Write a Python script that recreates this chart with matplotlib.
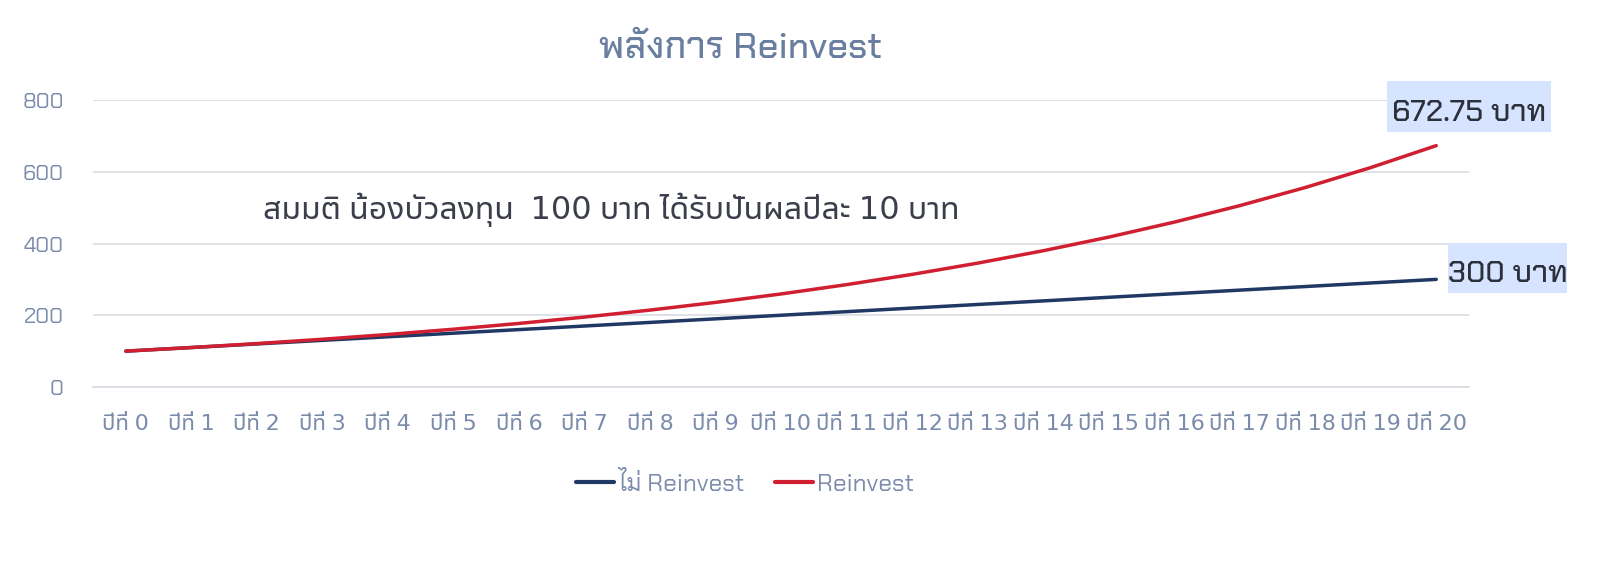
import matplotlib
matplotlib.use("Agg")
import matplotlib.pyplot as plt
from matplotlib.patches import Rectangle

# ---- data ----
years = ["ปีที่ 0", "ปีที่ 1", "ปีที่ 2", "ปีที่ 3", "ปีที่ 4", "ปีที่ 5", "ปีที่ 6",
         "ปีที่ 7", "ปีที่ 8", "ปีที่ 9", "ปีที่ 10", "ปีที่ 11", "ปีที่ 12", "ปีที่ 13",
         "ปีที่ 14", "ปีที่ 15", "ปีที่ 16", "ปีที่ 17", "ปีที่ 18", "ปีที่ 19", "ปีที่ 20"]
no_reinvest = [100, 110, 120, 130, 140, 150, 160, 170, 180, 190, 200,
               210, 220, 230, 240, 250, 260, 270, 280, 290, 300]
reinvest = [100.00, 110.00, 121.00, 133.10, 146.41, 161.05, 177.16, 194.87,
            214.36, 235.79, 259.37, 285.31, 313.84, 345.23, 379.75, 417.72,
            459.50, 505.45, 555.99, 611.59, 672.75]
series_names = ["ไม่ Reinvest", "Reinvest"]
title = "พลังการ Reinvest"
note = "สมมติ น้องบัวลงทุน  100 บาท ได้รับปันผลปีละ 10 บาท"
end_labels = ["300 บาท", "672.75 บาท"]
yticks = [0, 200, 400, 600, 800]

SQ = ["Chakra Petch", "DejaVu Sans"]
RD = ["Noto Sans Thai UI", "DejaVu Sans"]
plt.rcParams["font.family"] = SQ

W, H = 1600, 563
fig = plt.figure(figsize=(16, 5.63), dpi=100)
ax = fig.add_axes([93/W, 1-387/H, (1469-93)/W, (387-100)/H])

x = list(range(len(years)))
ax.plot(x, no_reinvest, color="#1F3864", lw=2.5, solid_capstyle="round", label=series_names[0])
ax.plot(x, reinvest, color="#D01F30", lw=2.5, solid_capstyle="round", label=series_names[1])

ax.set_xlim(-0.5, len(years) - 0.5)
ax.set_ylim(0, 800)
ax.set_yticks(yticks)
ax.set_xticks(x)
ax.set_xticklabels(years, family=RD, fontsize=16)
ax.grid(axis="y", color="#D9DCE3", lw=1.2)
ax.set_axisbelow(True)
for s in ["top", "right", "left"]:
    ax.spines[s].set_visible(False)
ax.spines["bottom"].set_color("#D9DCE3")
ax.spines["bottom"].set_linewidth(1.2)
ax.tick_params(length=0, colors="#7A8BAB")
ax.tick_params(axis="y", pad=21, labelsize=16)
ax.tick_params(axis="x", pad=19.5)

fig.text(740/W, 1-49/H, title, ha="center", va="center", fontsize=26.5, color="#6A7FA0",
         fontweight="medium")
ax.text(2.1, 495, note, fontsize=23, color="#3A3F4B", va="center", family=RD)

# label boxes (end-of-series value labels)
boxes = [(1448, 243, 1567, 293), (1387, 81, 1551, 132)]
for (x0, y0, x1, y1), lab in zip(boxes, end_labels):
    fig.patches.append(Rectangle((x0/W, 1-y1/H), (x1-x0)/W, (y1-y0)/H, transform=fig.transFigure,
                                 fc="#D6E4FF", ec="none", zorder=0))
    fig.text((x0+x1)/2/W, 1-((y0+y1)/2+7)/H, lab, ha="center", va="center", fontsize=22,
             color="#2B303B", fontweight="medium")

leg = fig.legend(loc="center", bbox_to_anchor=(745/W, 1-484/H), ncol=2, frameon=False,
                 fontsize=17.5, handlelength=1.55, columnspacing=1.3, handletextpad=0.15)
for t in leg.get_texts():
    t.set_color("#7A8BAB")
for h in leg.legend_handles:
    h.set_linewidth(3)

fig.savefig("out.png", dpi=100, facecolor="white")
